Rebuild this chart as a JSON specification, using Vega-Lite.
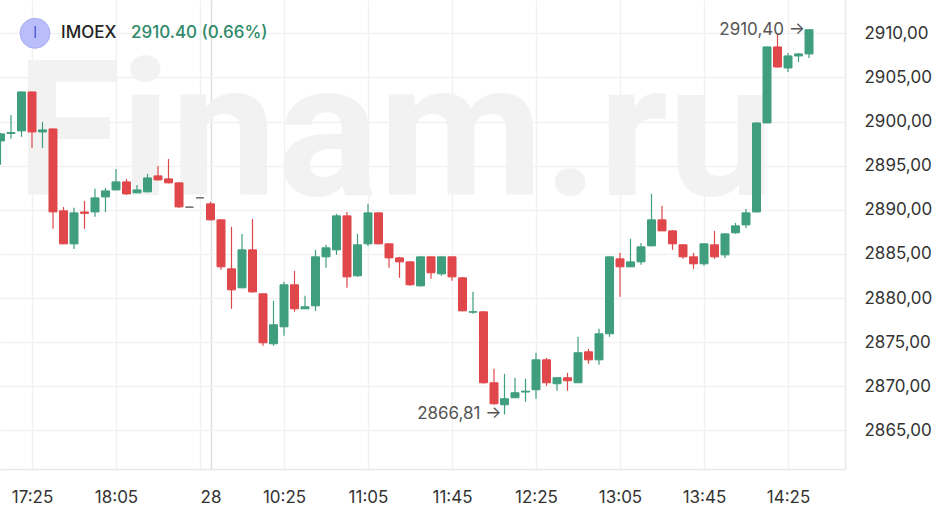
{
  "$schema": "https://vega.github.io/schema/vega-lite/v6.json",
  "width": 845,
  "height": 469,
  "autosize": {"type": "none"},
  "padding": {"left": 0, "top": 0, "right": 102, "bottom": 45},
  "background": "white",
  "config": {"font": "Inter", "view": {"stroke": null}},
  "datasets": {
    "candles": [
      {"t": "27 17:10", "o": 2897.80, "h": 2898.70, "l": 2895.10, "c": 2898.60},
      {"t": "27 17:15", "o": 2898.65, "h": 2900.75, "l": 2898.05, "c": 2898.75},
      {"t": "27 17:20", "o": 2898.94, "h": 2903.40, "l": 2898.26, "c": 2903.35},
      {"t": "27 17:25", "o": 2903.35, "h": 2903.40, "l": 2897.01, "c": 2898.82},
      {"t": "27 17:30", "o": 2898.82, "h": 2899.96, "l": 2897.01, "c": 2899.05},
      {"t": "27 17:35", "o": 2899.16, "h": 2899.20, "l": 2887.84, "c": 2889.76},
      {"t": "27 17:40", "o": 2889.88, "h": 2890.33, "l": 2886.10, "c": 2886.14},
      {"t": "27 17:45", "o": 2886.14, "h": 2890.22, "l": 2885.57, "c": 2889.65},
      {"t": "27 17:50", "o": 2889.75, "h": 2891.01, "l": 2887.84, "c": 2889.60},
      {"t": "27 17:55", "o": 2889.76, "h": 2892.37, "l": 2889.20, "c": 2891.35},
      {"t": "27 18:00", "o": 2891.46, "h": 2892.48, "l": 2889.76, "c": 2892.14},
      {"t": "27 18:05", "o": 2892.25, "h": 2894.63, "l": 2892.25, "c": 2893.16},
      {"t": "27 18:10", "o": 2893.16, "h": 2893.50, "l": 2891.69, "c": 2891.80},
      {"t": "27 18:15", "o": 2891.92, "h": 2892.82, "l": 2891.92, "c": 2892.25},
      {"t": "27 18:20", "o": 2892.03, "h": 2894.07, "l": 2892.00, "c": 2893.61},
      {"t": "27 18:25", "o": 2893.84, "h": 2894.97, "l": 2893.30, "c": 2893.39},
      {"t": "27 18:30", "o": 2893.50, "h": 2895.77, "l": 2893.00, "c": 2893.05},
      {"t": "27 18:35", "o": 2893.05, "h": 2893.16, "l": 2890.20, "c": 2890.33},
      {"t": "27 18:40", "o": 2890.30, "h": 2890.30, "l": 2890.30, "c": 2890.30},
      {"t": "27 18:45", "o": 2891.35, "h": 2891.35, "l": 2891.35, "c": 2891.35},
      {"t": "28 09:50", "o": 2890.67, "h": 2890.90, "l": 2888.80, "c": 2888.86},
      {"t": "28 09:55", "o": 2888.86, "h": 2888.90, "l": 2883.20, "c": 2883.54},
      {"t": "28 10:00", "o": 2883.31, "h": 2888.07, "l": 2878.78, "c": 2880.93},
      {"t": "28 10:05", "o": 2881.16, "h": 2887.27, "l": 2881.10, "c": 2885.46},
      {"t": "28 10:10", "o": 2885.46, "h": 2888.97, "l": 2880.60, "c": 2880.70},
      {"t": "28 10:15", "o": 2880.48, "h": 2880.50, "l": 2874.59, "c": 2874.93},
      {"t": "28 10:20", "o": 2874.82, "h": 2879.69, "l": 2874.59, "c": 2876.97},
      {"t": "28 10:25", "o": 2876.74, "h": 2881.84, "l": 2875.72, "c": 2881.50},
      {"t": "28 10:30", "o": 2881.50, "h": 2883.08, "l": 2878.44, "c": 2878.78},
      {"t": "28 10:35", "o": 2878.78, "h": 2880.25, "l": 2878.78, "c": 2879.01},
      {"t": "28 10:40", "o": 2879.12, "h": 2885.46, "l": 2878.55, "c": 2884.67},
      {"t": "28 10:45", "o": 2884.67, "h": 2886.03, "l": 2883.42, "c": 2885.69},
      {"t": "28 10:50", "o": 2885.46, "h": 2889.54, "l": 2884.89, "c": 2889.31},
      {"t": "28 10:55", "o": 2889.31, "h": 2889.76, "l": 2881.16, "c": 2882.40},
      {"t": "28 11:00", "o": 2882.52, "h": 2887.27, "l": 2882.40, "c": 2886.03},
      {"t": "28 11:05", "o": 2886.14, "h": 2890.67, "l": 2885.91, "c": 2889.65},
      {"t": "28 11:10", "o": 2889.65, "h": 2889.70, "l": 2886.10, "c": 2886.14},
      {"t": "28 11:15", "o": 2886.14, "h": 2886.20, "l": 2883.42, "c": 2884.55},
      {"t": "28 11:20", "o": 2884.55, "h": 2884.67, "l": 2882.29, "c": 2884.10},
      {"t": "28 11:25", "o": 2884.10, "h": 2884.20, "l": 2881.38, "c": 2881.50},
      {"t": "28 11:30", "o": 2881.38, "h": 2884.70, "l": 2881.30, "c": 2884.67},
      {"t": "28 11:35", "o": 2884.67, "h": 2884.70, "l": 2882.18, "c": 2882.86},
      {"t": "28 11:40", "o": 2882.74, "h": 2884.70, "l": 2882.52, "c": 2884.67},
      {"t": "28 11:45", "o": 2884.67, "h": 2884.70, "l": 2881.95, "c": 2882.40},
      {"t": "28 11:50", "o": 2882.29, "h": 2882.40, "l": 2878.50, "c": 2878.55},
      {"t": "28 11:55", "o": 2878.40, "h": 2880.70, "l": 2878.21, "c": 2878.45},
      {"t": "28 12:00", "o": 2878.44, "h": 2878.50, "l": 2870.30, "c": 2870.40},
      {"t": "28 12:05", "o": 2870.40, "h": 2871.99, "l": 2867.91, "c": 2868.02},
      {"t": "28 12:10", "o": 2867.91, "h": 2871.42, "l": 2866.81, "c": 2868.59},
      {"t": "28 12:15", "o": 2868.70, "h": 2870.97, "l": 2868.70, "c": 2869.27},
      {"t": "28 12:20", "o": 2869.35, "h": 2870.86, "l": 2868.25, "c": 2869.45},
      {"t": "28 12:25", "o": 2869.61, "h": 2873.80, "l": 2868.59, "c": 2873.00},
      {"t": "28 12:30", "o": 2873.00, "h": 2873.20, "l": 2870.06, "c": 2870.40},
      {"t": "28 12:35", "o": 2870.29, "h": 2871.00, "l": 2869.49, "c": 2870.97},
      {"t": "28 12:40", "o": 2870.97, "h": 2871.53, "l": 2869.49, "c": 2870.63},
      {"t": "28 12:45", "o": 2870.40, "h": 2875.61, "l": 2870.40, "c": 2873.80},
      {"t": "28 12:50", "o": 2873.91, "h": 2874.25, "l": 2872.55, "c": 2873.00},
      {"t": "28 12:55", "o": 2873.00, "h": 2876.51, "l": 2872.44, "c": 2875.95},
      {"t": "28 13:00", "o": 2875.95, "h": 2884.70, "l": 2875.61, "c": 2884.67},
      {"t": "28 13:05", "o": 2884.44, "h": 2885.12, "l": 2880.14, "c": 2883.54},
      {"t": "28 13:10", "o": 2883.54, "h": 2886.71, "l": 2883.50, "c": 2884.10},
      {"t": "28 13:15", "o": 2884.10, "h": 2886.25, "l": 2883.76, "c": 2885.80},
      {"t": "28 13:20", "o": 2885.91, "h": 2891.80, "l": 2885.90, "c": 2888.86},
      {"t": "28 13:25", "o": 2888.86, "h": 2890.44, "l": 2887.60, "c": 2887.61},
      {"t": "28 13:30", "o": 2887.61, "h": 2887.70, "l": 2885.46, "c": 2886.14},
      {"t": "28 13:35", "o": 2886.03, "h": 2886.10, "l": 2884.44, "c": 2884.67},
      {"t": "28 13:40", "o": 2884.67, "h": 2885.12, "l": 2883.31, "c": 2883.88},
      {"t": "28 13:45", "o": 2883.88, "h": 2886.25, "l": 2883.65, "c": 2886.14},
      {"t": "28 13:50", "o": 2886.03, "h": 2887.61, "l": 2884.44, "c": 2884.67},
      {"t": "28 13:55", "o": 2884.89, "h": 2887.30, "l": 2884.55, "c": 2887.27},
      {"t": "28 14:00", "o": 2887.39, "h": 2888.52, "l": 2887.30, "c": 2888.18},
      {"t": "28 14:05", "o": 2888.29, "h": 2890.10, "l": 2887.95, "c": 2889.65},
      {"t": "28 14:10", "o": 2889.76, "h": 2899.90, "l": 2889.70, "c": 2899.84},
      {"t": "28 14:15", "o": 2899.84, "h": 2908.50, "l": 2899.80, "c": 2908.45},
      {"t": "28 14:20", "o": 2908.45, "h": 2910.03, "l": 2906.10, "c": 2906.18},
      {"t": "28 14:25", "o": 2906.07, "h": 2907.77, "l": 2905.62, "c": 2907.43},
      {"t": "28 14:30", "o": 2907.43, "h": 2907.77, "l": 2906.75, "c": 2907.66},
      {"t": "28 14:35", "o": 2907.66, "h": 2910.40, "l": 2907.20, "c": 2910.40}
    ],
    "one": [{}]
  },
  "data": {"name": "candles"},
  "encoding": {
    "x": {
      "field": "t", "type": "ordinal", "title": null,
      "scale": {"type": "point", "domain": {"unionWith": ["28 14:40", "28 14:45", "28 14:50"]}, "padding": 0.238, "align": 0.1},
      "axis": {
        "values": ["27 17:25", "27 18:05", "27 18:45", "28 09:50", "28 10:25", "28 11:05", "28 11:45", "28 12:25", "28 13:05", "28 13:45", "28 14:25"],
        "labelExpr": "datum.value == '27 18:45' ? '' : (datum.value == '28 09:50' ? '28' : substring(datum.value, 3))",
        "labelAngle": 0, "labelFontSize": 17, "labelColor": "#333333", "labelPadding": 20,
        "ticks": false, "domainColor": "#e8e8e8", "domainWidth": 1.5,
        "grid": true,
        "gridColor": {"condition": {"test": "datum.value == '28 09:50'", "value": "#dedede"}, "value": "#f1f1f1"},
        "gridWidth": 1.5
      }
    },
    "y": {"type": "quantitative"}
  },
  "layer": [
    {
      "data": {"name": "one"},
      "mark": {"type": "text", "font": "Roboto", "fontSize": 190, "fontWeight": "bold", "color": "#f2f2f2", "align": "left", "baseline": "alphabetic", "dx": -16},
      "encoding": {"x": {"datum": "27 17:25"}, "y": {"datum": 2891.69}, "text": {"value": "Finam.ru"}}
    },
    {
      "mark": {"type": "rule", "strokeWidth": 1.2},
      "encoding": {
        "y": {"field": "l", "type": "quantitative", "title": null,
          "scale": {"domain": [2860.63, 2913.77], "nice": false, "zero": false},
          "axis": {
            "orient": "right",
            "values": [2865, 2870, 2875, 2880, 2885, 2890, 2895, 2900, 2905, 2910],
            "labelExpr": "replace(format(datum.value, '.2f'), '.', ',')",
            "labelFontSize": 17, "labelColor": "#333333", "labelPadding": 19, "labelAlign": "left",
            "ticks": false, "domainColor": "#e8e8e8", "domainWidth": 1.5,
            "grid": true, "gridColor": "#f1f1f1", "gridWidth": 1.5
          }
        },
        "y2": {"field": "h"},
        "color": {"condition": [{"test": "datum.c > datum.o", "value": "#3f9e7e"}, {"test": "datum.c < datum.o", "value": "#e0474a"}], "value": "#666666"}
      }
    },
    {
      "mark": {"type": "bar", "width": 8, "strokeWidth": 1},
      "encoding": {
        "y": {"field": "o", "type": "quantitative"},
        "y2": {"field": "c"},
        "color": {"condition": [{"test": "datum.c > datum.o", "value": "#3f9e7e"}, {"test": "datum.c < datum.o", "value": "#e0474a"}], "value": "#666666"},
        "stroke": {"condition": [{"test": "datum.c > datum.o", "value": "#3f9e7e"}, {"test": "datum.c < datum.o", "value": "#e0474a"}], "value": "#666666"}
      }
    },
    {
      "data": {"name": "one"},
      "mark": {"type": "text", "fontSize": 17, "color": "#555555", "align": "right", "baseline": "middle", "dx": -4},
      "encoding": {"x": {"datum": "28 14:35"}, "y": {"datum": 2910.4}, "text": {"value": "2910,40 →"}}
    },
    {
      "data": {"name": "one"},
      "mark": {"type": "text", "fontSize": 17, "color": "#555555", "align": "right", "baseline": "middle", "dx": -3},
      "encoding": {"x": {"datum": "28 12:10"}, "y": {"datum": 2866.81}, "text": {"value": "2866,81 →"}}
    },
    {
      "data": {"name": "one"},
      "mark": {"type": "point", "shape": "circle", "size": 900, "filled": true, "color": "#b9befa", "opacity": 1, "xOffset": 3, "stroke": "#a9aef0", "strokeWidth": 1},
      "encoding": {"x": {"datum": "27 17:25"}, "y": {"datum": 2910}}
    },
    {
      "data": {"name": "one"},
      "mark": {"type": "text", "fontSize": 16, "fontWeight": 300, "color": "#3347d6", "align": "center", "baseline": "middle", "dx": 3},
      "encoding": {"x": {"datum": "27 17:25"}, "y": {"datum": 2910}, "text": {"value": "I"}}
    },
    {
      "data": {"name": "one"},
      "mark": {"type": "text", "fontSize": 17, "fontWeight": 500, "color": "#222222", "align": "left", "baseline": "middle", "dx": 29},
      "encoding": {"x": {"datum": "27 17:25"}, "y": {"datum": 2910}, "text": {"value": "IMOEX"}}
    },
    {
      "data": {"name": "one"},
      "mark": {"type": "text", "fontSize": 17, "fontWeight": 500, "color": "#2e8a6a", "align": "left", "baseline": "middle", "dx": 99},
      "encoding": {"x": {"datum": "27 17:25"}, "y": {"datum": 2910}, "text": {"value": "2910.40 (0.66%)"}}
    }
  ]
}
